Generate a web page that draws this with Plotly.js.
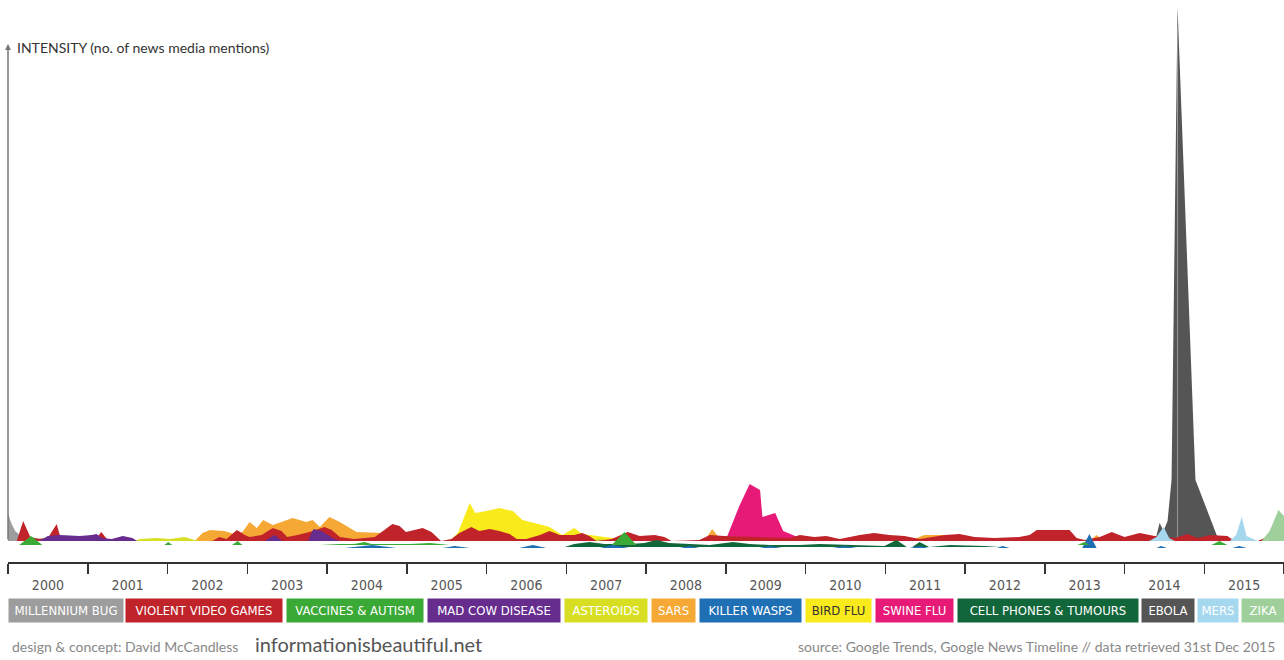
<!DOCTYPE html>
<html>
<head>
<meta charset="utf-8">
<script src="https://cdn.plot.ly/plotly-3.0.1.min.js"></script>
<style>
  html, body { margin: 0; padding: 0; background: #fff; }
  #chart { width: 1284px; height: 660px; }
</style>
</head>
<body>
<div id="chart"></div>
<script>
// time in decimal years, intensity in relative units
var millenniumYears  = [2000.00, 2000.04, 2000.09, 2000.16, 2000.27, 2000.52, 2000.60];
var millenniumValues = [28, 18, 10, 5, 3, 2, 0];

var violentYears = [2000.11, 2000.19, 2000.28, 2000.39, 2000.50, 2000.61, 2000.66, 2000.70, 2001.08, 2001.17, 2001.24, 2001.30,
  2002.56, 2002.65, 2002.74, 2002.87, 2002.97, 2003.03, 2003.18, 2003.32, 2003.43, 2003.50, 2003.63, 2003.78, 2003.97,
  2004.06, 2004.16, 2004.34, 2004.60, 2004.82, 2004.91, 2004.99, 2005.20, 2005.31, 2005.43, 2005.56, 2005.66, 2005.81,
  2005.91, 2006.04, 2006.16, 2006.29, 2006.38, 2006.50, 2006.67, 2006.79, 2006.92, 2007.10, 2007.20, 2007.29, 2007.38,
  2007.57, 2007.77, 2007.92, 2008.11, 2008.23, 2008.32, 2008.67, 2008.80, 2008.98, 2009.80, 2009.93, 2010.11, 2010.26,
  2010.43, 2010.68, 2010.86, 2011.05, 2011.24, 2011.43, 2011.75, 2011.93, 2012.12, 2012.37, 2012.68, 2012.81, 2012.90,
  2013.31, 2013.40, 2013.50, 2013.69, 2013.84, 2014.00, 2014.19, 2014.38, 2014.63, 2014.79, 2014.92, 2015.07, 2015.29,
  2015.38, 2015.67, 2015.79, 2015.92, 2016.00];
var violentValues = [0, 20, 4, 2, 3, 17, 3, 0, 0, 9, 2, 0,
  0, 4, 2, 11, 6, 4, 6, 13, 10, 4, 6, 9, 14,
  11, 4, 2, 4, 17, 15, 9, 13, 9, 0, 2, 8, 14,
  10, 12, 10, 7, 2, 2, 6, 10, 6, 6, 8, 5, 0,
  2, 9, 5, 6, 4, 0, 1, 6, 5, 3, 6, 4, 5,
  2, 6, 8, 6, 5, 2, 6, 7, 4, 3, 4, 6, 11,
  11, 3, 1, 4, 9, 4, 8, 5, 3, 7, 3, 6, 5,
  0, 0, 4, 2, 2];

var vaccinesYears  = [2000.14, 2000.29, 2000.43, 2001.96, 2002.01, 2002.06, 2002.81, 2002.88, 2002.94,
  2003.91, 2004.16, 2004.34, 2004.47, 2004.56, 2005.04, 2005.29, 2005.54, 2007.57, 2007.73, 2007.88,
  2013.41, 2013.50, 2013.56, 2015.09, 2015.19, 2015.29];
var vaccinesValues = [0, 9, 0, 0, 3, 0, 0, 4, 0,
  0, 1, 1, 3, 1, 1, 2, 0, 0, 13, 0,
  0, 3, 0, 0, 4, 0];

var madCowYears  = [2000.39, 2000.50, 2000.65, 2000.90, 2001.05, 2001.11, 2001.18, 2001.30, 2001.44, 2001.56, 2001.62,
  2003.22, 2003.34, 2003.44, 2003.76, 2003.83, 2003.93, 2004.09, 2004.16];
var madCowValues = [0, 5, 6, 5, 6, 7, 3, 2, 5, 3, 0,
  0, 6, 0, 0, 12, 10, 2, 0];

var asteroidsYears  = [2000.46, 2000.58, 2000.67, 2000.77, 2001.59, 2001.65, 2001.86, 2002.03, 2002.21, 2002.34, 2002.46,
  2002.71, 2002.80, 2002.97, 2003.18, 2003.28, 2003.91, 2004.01, 2004.09, 2007.29, 2007.42, 2007.54];
var asteroidsValues = [0, 5, 2, 0, 0, 2, 3, 2, 4, 1, 0,
  0, 4, 3, 5, 0, 0, 4, 0, 0, 3, 0];

var sarsYears  = [2002.34, 2002.44, 2002.53, 2002.71, 2002.84, 2002.94, 2003.03, 2003.12, 2003.20, 2003.32, 2003.57,
  2003.74, 2003.82, 2003.91, 2004.03, 2004.16, 2004.37, 2004.70, 2004.81, 2008.73, 2008.83, 2008.95,
  2011.30, 2011.49, 2011.74, 2011.87, 2012.75, 2012.81, 2012.89, 2013.56, 2013.65, 2013.75];
var sarsValues = [0, 8, 11, 10, 7, 9, 19, 13, 21, 16, 23,
  19, 21, 14, 24, 19, 9, 8, 0, 0, 12, 0,
  0, 6, 6, 0, 0, 6, 0, 0, 6, 0];

var waspsYears  = [2004.22, 2004.57, 2004.87, 2005.45, 2005.60, 2005.79, 2006.41, 2006.58, 2006.75, 2007.42, 2007.58, 2007.79,
  2008.42, 2008.55, 2008.67, 2009.42, 2009.55, 2009.71, 2010.34, 2010.49, 2010.64, 2011.30, 2011.43, 2011.55,
  2012.40, 2012.47, 2012.56, 2013.47, 2013.56, 2013.65, 2014.40, 2014.46, 2014.53, 2015.35, 2015.44, 2015.53];
var waspsValues = [0, 3, 0, 0, 2, 0, 0, 3, 0, 0, 3, 0,
  0, 2, 0, 0, 2, 0, 0, 2, 0, 0, 2, 0,
  0, 2, 0, 0, 14, 0, 0, 2, 0, 0, 2, 0];

var birdFluYears  = [2005.54, 2005.64, 2005.79, 2005.86, 2006.00, 2006.16, 2006.33, 2006.45, 2006.70, 2006.79, 2006.95,
  2007.10, 2007.20, 2007.45, 2007.67, 2007.92];
var birdFluValues = [0, 8, 38, 28, 30, 33, 30, 21, 16, 14, 6, 13, 7, 4, 2, 0];

var swineFluYears  = [2008.95, 2009.02, 2009.17, 2009.30, 2009.43, 2009.46, 2009.62, 2009.72, 2009.84, 2009.93, 2010.05];
var swineFluValues = [0, 5, 35, 57, 51, 24, 28, 10, 6, 3, 0];

var cellYears  = [2006.98, 2007.10, 2007.29, 2007.48, 2007.79, 2007.98, 2008.13, 2008.29, 2008.55, 2008.80, 2009.09,
  2009.30, 2009.55, 2009.93, 2010.18, 2010.68, 2010.99, 2011.14, 2011.27, 2011.34, 2011.43, 2011.55, 2011.81,
  2012.25, 2012.43];
var cellValues = [0, 3, 5, 3, 3, 4, 7, 4, 3, 2, 5, 3, 2, 2, 3, 2, 1, 7, 0, 0, 5, 0, 2, 1, 0];

var ebolaYears  = [2014.31, 2014.40, 2014.44, 2014.49, 2014.54, 2014.56, 2014.59, 2014.665, 2014.89, 2015.17, 2015.22];
var ebolaValues = [0, 5, 18, 10, 20, 40, 61, 534, 61, 3, 0];

var mersYears  = [2014.31, 2014.40, 2014.49, 2014.56, 2014.63, 2015.32, 2015.40, 2015.47, 2015.53, 2015.63, 2015.67];
var mersValues = [0, 4, 14, 3, 0, 0, 6, 24, 5, 2, 0];

var zikaYears  = [2015.72, 2015.82, 2015.93, 2016.00];
var zikaValues = [0, 10, 31, 25];

var tickYears = [2000, 2001, 2002, 2003, 2004, 2005, 2006, 2007, 2008, 2009, 2010, 2011, 2012, 2013, 2014, 2015];

var legendLabels = ['MILLENNIUM BUG', 'VIOLENT VIDEO GAMES', 'VACCINES & AUTISM', 'MAD COW DISEASE', 'ASTEROIDS',
  'SARS', 'KILLER WASPS', 'BIRD FLU', 'SWINE FLU', 'CELL PHONES & TUMOURS', 'EBOLA', 'MERS', 'ZIKA'];

// styles
var colors = {
  millennium: '#9d9d9d', violent: '#c1232b', vaccines: '#3aa935', madCow: '#662d8f', asteroids: '#d8df22',
  sars: '#f6a834', wasps: '#1f6fb5', birdFlu: '#f9ea1c', swineFlu: '#e71a78', cell: '#11663a',
  ebola: '#555555', mers: '#a5d8ef', zika: '#9fd09b'
};
var legendColors = [colors.millennium, colors.violent, colors.vaccines, colors.madCow, colors.asteroids, colors.sars,
  colors.wasps, colors.birdFlu, colors.swineFlu, colors.cell, colors.ebola, colors.mers, colors.zika];
var baseOffset = { vaccines: -4, wasps: -7, cell: -6 };

function area(xs, vs, color, offset) {
  offset = offset || 0;
  return {
    x: xs.concat([xs[xs.length - 1], xs[0]]),
    y: vs.map(function (v) { return v + offset; }).concat([offset, offset]),
    mode: 'lines',
    fill: 'toself',
    fillcolor: color,
    line: { width: 0, color: color },
    hoverinfo: 'skip',
    showlegend: false
  };
}

// thin light line down the middle of the ebola spike
var ebolaPeak = ebolaValues.indexOf(Math.max.apply(null, ebolaValues));
var ebolaLine = {
  x: [ebolaYears[ebolaPeak], ebolaYears[ebolaPeak]],
  y: [0, ebolaValues[ebolaPeak] - 20],
  mode: 'lines', line: { width: 1, color: '#9a9a9a' }, hoverinfo: 'skip', showlegend: false
};

// back to front
var data = [
  area(ebolaYears, ebolaValues, colors.ebola),
  ebolaLine,
  area(swineFluYears, swineFluValues, colors.swineFlu),
  area(birdFluYears, birdFluValues, colors.birdFlu),
  area(sarsYears, sarsValues, colors.sars),
  area(millenniumYears, millenniumValues, colors.millennium),
  area(asteroidsYears, asteroidsValues, colors.asteroids),
  area(violentYears, violentValues, colors.violent),
  area(madCowYears, madCowValues, colors.madCow),
  area(cellYears, cellValues, colors.cell, baseOffset.cell),
  area(waspsYears, waspsValues, colors.wasps, baseOffset.wasps),
  area(vaccinesYears, vaccinesValues, colors.vaccines, baseOffset.vaccines),
  area(mersYears, mersValues, colors.mers),
  area(zikaYears, zikaValues, colors.zika)
];

// plot area: x 8..1284 px, y 0..562 px
function px2x(px) { return (px - 8) / 1276; }
function py2y(py) { return (562 - py) / 562; }

var narrow = '"Liberation Sans Narrow", "DejaVu Sans Condensed", sans-serif';
var round = 'Lato, "Open Sans", sans-serif';

var legendBoxes = [[8, 122], [125, 281], [286, 422], [427, 559], [564, 646], [651, 694], [699, 800],
  [805, 870], [875, 952], [957, 1137], [1141, 1193], [1197, 1237], [1241, 1283]];

var annotations = legendLabels.map(function (lab, i) {
  return {
    xref: 'paper', yref: 'paper', x: px2x(legendBoxes[i][0]), y: py2y(610),
    xanchor: 'left', yanchor: 'middle', showarrow: false,
    width: legendBoxes[i][1] - legendBoxes[i][0], height: 23, borderpad: 0,
    bgcolor: legendColors[i], align: 'center', valign: 'middle',
    text: lab.replace('&', '&amp;'),
    font: { family: narrow, size: 13, color: lab === 'BIRD FLU' ? '#333' : '#fff' }
  };
});

annotations.push(
  { xref: 'x', yref: 'y', x: 2000, y: 497, ax: 2000, ay: 0, axref: 'x', ayref: 'y', text: '',
    showarrow: true, arrowhead: 2, arrowsize: 0.8, arrowwidth: 1.5, arrowcolor: '#777' },
  { xref: 'paper', yref: 'paper', x: px2x(15), y: py2y(47), xanchor: 'left', yanchor: 'middle', showarrow: false,
    text: 'INTENSITY (no. of news media mentions)', font: { family: round, size: 14, color: '#333' } },
  { xref: 'paper', yref: 'paper', x: px2x(10), y: py2y(646), xanchor: 'left', yanchor: 'middle', showarrow: false,
    text: 'design &amp; concept: David McCandless', font: { family: round, size: 14, color: '#888' } },
  { xref: 'paper', yref: 'paper', x: px2x(253), y: py2y(644), xanchor: 'left', yanchor: 'middle', showarrow: false,
    text: 'informationisbeautiful.net', font: { family: round, size: 20, color: '#555' } },
  { xref: 'paper', yref: 'paper', x: px2x(1277), y: py2y(646), xanchor: 'right', yanchor: 'middle', showarrow: false,
    text: 'source: Google Trends, Google News Timeline // data retrieved 31st Dec 2015',
    font: { family: round, size: 14, color: '#888' } }
);

var layout = {
  width: 1284,
  height: 660,
  margin: { l: 8, r: 0, t: 0, b: 98 },
  paper_bgcolor: '#fff',
  plot_bgcolor: '#fff',
  showlegend: false,
  xaxis: {
    range: [2000, 2016],
    tickmode: 'array',
    tickvals: tickYears.map(function (y) { return y + 0.5; }),
    ticktext: tickYears.map(String),
    ticks: 'outside', ticklen: 10, tickcolor: 'rgba(0,0,0,0)',
    tickfont: { family: narrow, size: 14, color: '#555' },
    showline: true, linecolor: '#333', linewidth: 1.5,
    showgrid: false, zeroline: false, fixedrange: true,
    minor: {
      tickmode: 'array', tickvals: tickYears.concat([2016]),
      ticks: 'outside', ticklen: 10, tickwidth: 1.5, tickcolor: '#333', showgrid: false
    }
  },
  yaxis: {
    range: [-21, 541],
    visible: false, fixedrange: true
  },
  annotations: annotations
};

Plotly.newPlot('chart', data, layout, { displayModeBar: false, staticPlot: true });
</script>
</body>
</html>
